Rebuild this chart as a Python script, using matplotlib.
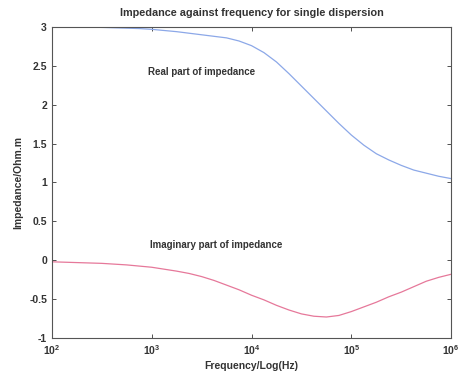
import numpy as np
import matplotlib
matplotlib.use("Agg")
import matplotlib.pyplot as plt

log_freq = [2.0, 2.125, 2.25, 2.375, 2.5, 2.625, 2.75, 2.875, 3.0,
            3.125, 3.25, 3.375, 3.5, 3.625, 3.75, 3.875, 4.0,
            4.125, 4.25, 4.375, 4.5, 4.625, 4.75, 4.875, 5.0,
            5.125, 5.25, 5.375, 5.5, 5.625, 5.75, 5.875, 6.0]
real_part = [3.00, 3.00, 3.00, 3.00, 2.995, 2.99, 2.985, 2.98, 2.97,
             2.955, 2.94, 2.92, 2.90, 2.88, 2.86, 2.82, 2.76,
             2.67, 2.55, 2.40, 2.24, 2.08, 1.92, 1.76, 1.61,
             1.48, 1.37, 1.29, 1.22, 1.16, 1.12, 1.08, 1.05]
imag_part = [-0.02, -0.025, -0.03, -0.035, -0.04, -0.05, -0.06, -0.075, -0.09,
             -0.115, -0.14, -0.17, -0.21, -0.26, -0.32, -0.38, -0.45,
             -0.51, -0.58, -0.64, -0.69, -0.72, -0.73, -0.71, -0.66,
             -0.60, -0.54, -0.47, -0.41, -0.34, -0.27, -0.22, -0.18]

freq = 10.0 ** np.array(log_freq)

plt.rcParams['font.family'] = ['Liberation Sans', 'DejaVu Sans']
plt.rcParams['font.weight'] = 'bold'

fig = plt.figure(figsize=(4.59, 3.83), dpi=100)
ax = fig.add_axes([0.113, 0.1175, 0.870, 0.812])

ax.plot(freq, real_part, color='#8ca8e8', lw=0.9)
ax.plot(freq, imag_part, color='#e6789a', lw=0.9)

ax.set_xscale('log')
ax.set_xlim(1e2, 1e6)
ax.set_ylim(-1, 3)
ax.set_xticks([1e2, 1e3, 1e4, 1e5, 1e6])
ax.minorticks_off()
ax.set_yticks([-1, -0.5, 0, 0.5, 1, 1.5, 2, 2.5, 3])
ax.set_yticklabels(['-1', '-0.5', '0', '0.5', '1', '1.5', '2', '2.5', '3'])
ax.tick_params(direction='in', top=True, right=True, length=3, width=0.6,
               labelsize=7.5, colors='#333333', labelcolor='#333333')
for lbl in ax.get_xticklabels() + ax.get_yticklabels():
    lbl.set_fontweight('bold')
for s in ax.spines.values():
    s.set_color('#555555')
    s.set_linewidth(0.8)

ax.text(10 ** 2.96, 2.42, 'Real part of impedance', fontsize=7, fontweight='bold',
        color='#333333', va='center')
ax.text(10 ** 2.98, 0.20, 'Imaginary part of impedance', fontsize=7,
        fontweight='bold', color='#333333', va='center')

ax.set_title('Impedance against frequency for single dispersion', fontsize=7.8,
             fontweight='bold', color='#333333', pad=8)
ax.set_xlabel('Frequency/Log(Hz)', fontsize=7.5, fontweight='bold', color='#333333',
              labelpad=3)
ax.set_ylabel('Impedance/Ohm.m', fontsize=7.5, fontweight='bold', color='#333333',
              labelpad=4)

fig.savefig('out.png', dpi=100)
